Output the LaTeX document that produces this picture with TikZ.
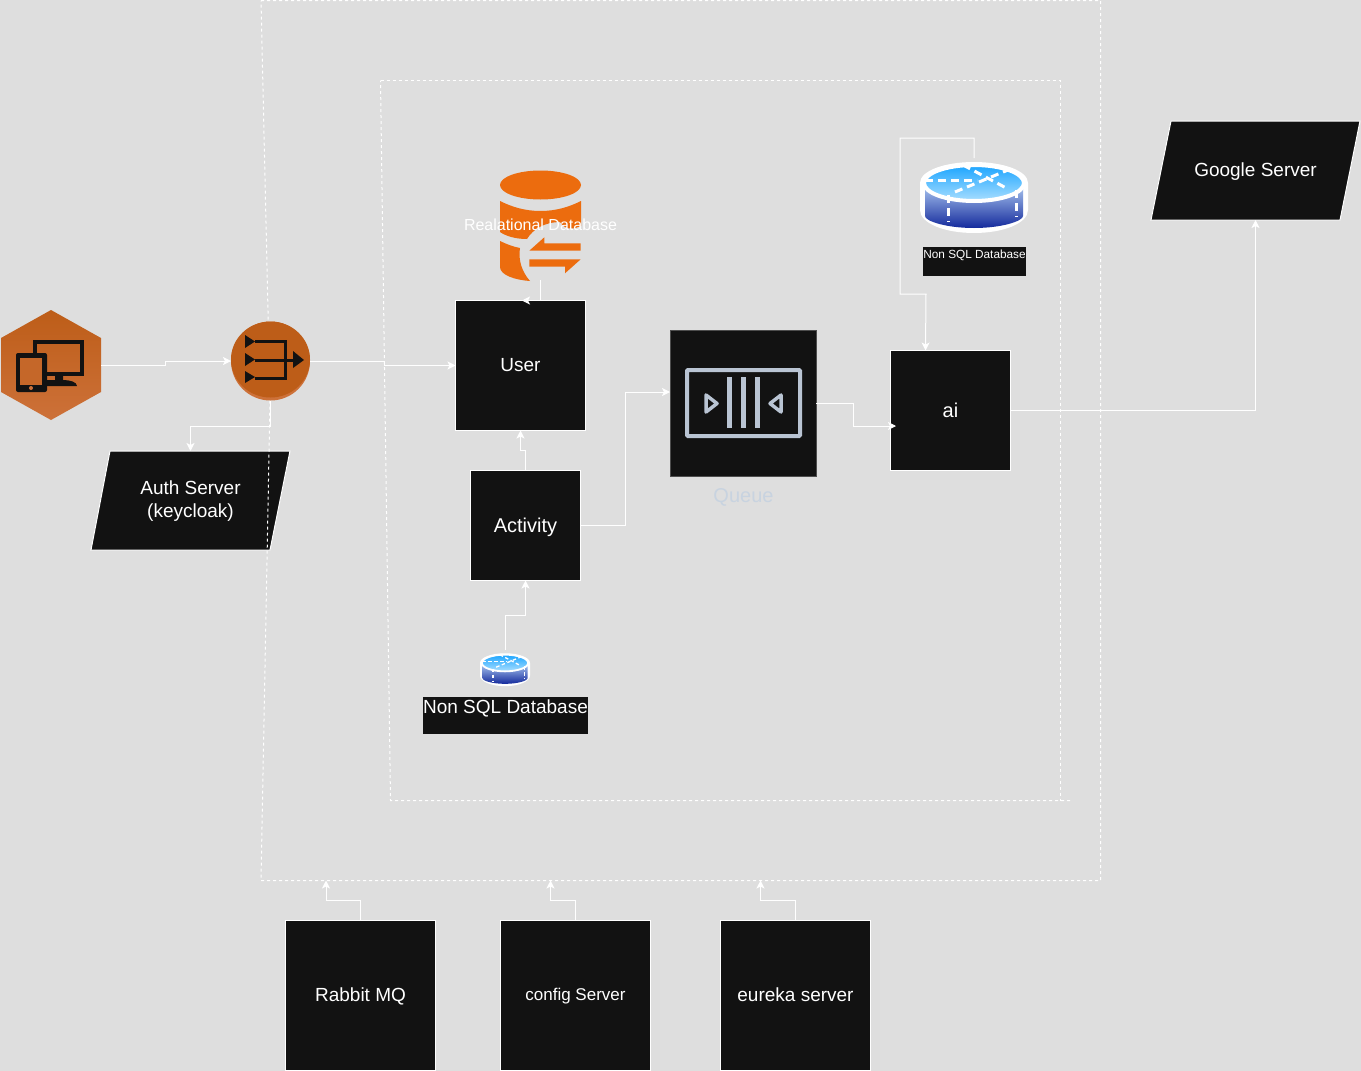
\documentclass[tikz,border=0pt]{standalone}
\usepackage{fontspec}
\setmainfont{Liberation Sans}
\usetikzlibrary{arrows.meta}
\definecolor{pagebg}{HTML}{DEDEDE}
\definecolor{boxblack}{HTML}{121212}
\definecolor{awsdark}{HTML}{BD5D18}
\definecolor{awslight}{HTML}{CD7139}
\definecolor{dborange}{HTML}{EC6C0E}
\definecolor{queuegrey}{HTML}{B9C4D3}
\definecolor{queuetext}{HTML}{C8D3E0}
\definecolor{discdark}{HTML}{142A9C}
\definecolor{disclight}{HTML}{A6C2EE}
\definecolor{topdark}{HTML}{1CA5FF}
\definecolor{toplight}{HTML}{A8DEFF}
\newcommand{\nosqlicon}[4]{
\begin{scope}[shift={(#1,#2)},scale=#3]
\fill[white] (-54,0) .. controls (-54,-12) and (-30,-21) .. (0,-21) .. controls (30,-21) and (54,-12) .. (54,0) -- (54,27) .. controls (54,40) and (30,50) .. (0,50) .. controls (-30,50) and (-54,40) .. (-54,27) -- cycle;
\path[top color=disclight,bottom color=discdark] (-49,3) -- (49,3) -- (49,33) .. controls (49,38) and (28,45) .. (0,45) .. controls (-28,45) and (-49,38) .. (-49,33) -- cycle;
\path[draw=white,line width=#3*4pt,top color=topdark,bottom color=toplight] (0,0) ellipse [x radius=50,y radius=18];
\draw[white,#4] (-49,-3) -- (3,-3);
\draw[white,#4] (-11,-18) -- (34,6);
\draw[white,#4] (-19,9) -- (34,-13);
\draw[white,#4] (-26,12) -- (-26,39);
\draw[white,#4] (42,7) -- (42,34);
\end{scope}
}
\begin{document}
\begin{tikzpicture}[x=1pt,y=-1pt,line width=1pt]
\tikzstyle{blackbox} = [rectangle, draw=white, fill=boxblack, text=white, inner sep=0pt, outer sep=0pt, text depth=2pt, font=\fontsize{19}{23}\selectfont]
\tikzstyle{paratext} = [rectangle, text=white, inner sep=0pt, outer sep=0pt, align=center, font=\fontsize{19}{23}\selectfont]
\tikzstyle{parabox} = [draw=white, fill=boxblack]
\tikzstyle{labelbox} = [rectangle, fill=boxblack, text=white, inner sep=0pt, outer sep=0pt]
\tikzstyle{boundary} = [draw=white, dash pattern=on 3pt off 3pt]
\tikzstyle{edge} = [draw=white, -{Stealth[length=8pt,width=8pt,inset=2pt]}]

\useasboundingbox (0,0) rectangle (1361,1071);
\fill[pagebg] (0,0) rectangle (1361,1071);

\path[top color=awsdark, bottom color=awslight] (51,310) -- (101,338) -- (101,392) -- (51,420) -- (1,392) -- (1,338) -- cycle;
\node[rectangle, minimum width=100, minimum height=110, inner sep=0pt, outer sep=0pt] (device) at (51,365) {};
\draw[boxblack, line width=4pt] (35,353) -- (35,342) -- (82,342) -- (82,374) -- (47,374);
\fill[boxblack] (55,376) -- (63,376) -- (63,380) .. controls (70,380) and (77,382) .. (77,386) -- (47,386) -- (47,380) -- (55,380) -- cycle;
\fill[boxblack, rounded corners=2pt] (16,353) rectangle (47,392);
\fill[awsdark!50!awslight] (20,358) rectangle (42,385);
\fill[awslight] (31,388) circle (2);

\draw[parabox] (110,451) -- (290,451) -- (270,550) -- (91,550) -- cycle;
\node[paratext, minimum width=180, minimum height=100] (auth) at (190.5,501) {Auth Server\\(keycloak)};
\draw[parabox] (1171,121) -- (1360,121) -- (1340,220) -- (1151,220) -- cycle;
\node[paratext, text depth=2pt, minimum width=190, minimum height=99] (google) at (1255.5,170.5) {Google Server};

\draw[boundary] (261,0.5) -- (1100.5,0.5) -- (1100.5,880.5) -- (261,880.5) -- (270,400) -- cycle;
\draw[boundary] (380.5,80.5) -- (1060.5,80.5) -- (1060.5,800.5);
\draw[boundary] (1070,800.5) -- (390.5,800.5) -- (380.5,80.5);

\fill[awslight] (270.5,361) circle (39.5);
\node[circle, minimum size=79, inner sep=0pt, outer sep=0pt] (gateway) at (270.5,361) {};
\fill[awsdark] (270.5,359.5) ellipse [x radius=39.5, y radius=38];
\draw[boxblack, line width=3pt] (255,341) -- (285,341) -- (285,378) -- (255,378);
\draw[boxblack, line width=3pt] (255,360) -- (294,360);
\fill[boxblack] (245,335) -- (255,341.5) -- (245,348) -- cycle;
\fill[boxblack] (245,353) -- (255,359.5) -- (245,366) -- cycle;
\fill[boxblack] (245,371) -- (255,377) -- (245,383) -- cycle;
\fill[boxblack] (293,351) -- (304,360) -- (293,368) -- cycle;

\fill[dborange] (540.5,185) ellipse [x radius=40.5, y radius=14.5];
\fill[dborange] (500,201) .. controls (512,207) and (525,211) .. (540.5,211) .. controls (556,211) and (569,207) .. (581,201) -- (581,226) .. controls (574,229) and (566,231) .. (560,222) .. controls (545,222) and (533,229) .. (527,239) .. controls (515,239) and (506,236) .. (500,232) -- cycle;
\fill[dborange] (500,241) .. controls (506,244) and (514,247) .. (520,248) .. controls (518,260) and (522,272) .. (530,281) .. controls (515,280) and (500,275) .. (500,267) -- cycle;
\fill[dborange] (529.3,250.7) -- (544.3,237.3) -- (544.3,243.3) -- (580.7,243.3) -- (580.7,250.7) -- cycle;
\fill[dborange] (529.3,259.3) -- (580.7,259.3) -- (565,273.3) -- (565,266.7) -- (529.3,266.7) -- cycle;
\node[rectangle, text=white, inner sep=0pt, outer sep=0pt, minimum width=81, minimum height=110, font=\fontsize{16}{19}\selectfont] (reldb) at (540.5,225) {Realational Database};

\node[blackbox, minimum width=130, minimum height=130] (user) at (520.5,365.5) {User};
\node[blackbox, text depth=0pt, minimum width=110, minimum height=110, font=\fontsize{20}{24}\selectfont] (activity) at (525.5,525.5) {Activity};
\node[blackbox, draw=boxblack!75!white, line width=.5pt, minimum width=146, minimum height=146] (queue) at (743,403) {};
\node[blackbox, text depth=0pt, minimum width=120, minimum height=120, font=\fontsize{20}{24}\selectfont] (ai) at (950.5,410.5) {ai};
\node[text=queuetext, inner sep=0pt, font=\fontsize{20}{24}\selectfont] (queuelabel) at (743.5,497) {Queue};

\draw[queuegrey, line width=4pt, rounded corners=1pt] (687,370) rectangle (800,436);
\draw[queuegrey, line width=4.5pt] (729.3,377) -- (729.3,428);
\draw[queuegrey, line width=4.5pt] (743.3,377) -- (743.3,428);
\draw[queuegrey, line width=4.5pt] (757.3,377) -- (757.3,428);
\draw[queuegrey, line width=3.5pt, line join=round] (706,395) -- (717,403.5) -- (706,412) -- cycle;
\draw[queuegrey, line width=3.5pt, line join=round] (781,395) -- (770,403.5) -- (781,412) -- cycle;

\nosqlicon{974}{183}{1}{line width=3pt, dash pattern=on 8pt off 5pt}
\node[minimum width=108, minimum height=75, inner sep=0pt, outer sep=0pt] (nosqlai) at (974,195.5) {};
\node[labelbox, minimum width=103, minimum height=29, text height=11pt, text depth=18pt, font=\fontsize{11.8}{14}\selectfont] (nosqlailabel) at (974.5,261.5) {Non SQL Database};
\nosqlicon{505}{663}{0.463}{line width=1.3pt, dash pattern=on 3.5pt off 2.5pt}
\node[minimum width=50, minimum height=36, inner sep=0pt, outer sep=0pt] (nosqlactivity) at (505,668) {};
\node[labelbox, minimum width=165, minimum height=37, text height=16pt, text depth=21pt, font=\fontsize{19}{23}\selectfont] (nosqlactivitylabel) at (505.5,715.5) {Non SQL Database};

\node[blackbox, minimum width=150, minimum height=150] (rabbit) at (360.5,995.5) {Rabbit MQ};
\node[blackbox, minimum width=150, minimum height=150, font=\fontsize{17}{21}\selectfont] (config) at (575.5,995.5) {config Server};
\node[blackbox, minimum width=150, minimum height=150] (eureka) at (795.5,995.5) {eureka server};

\coordinate (userin) at (522,300.5);
\coordinate (queuein) at (670,392);
\coordinate (aiin) at (896,426);
\coordinate (aitop) at (925.5,350.5);
\coordinate (rabbitin) at (326,880.5);
\coordinate (configin) at (550.5,880.5);
\coordinate (eurekain) at (760.5,880.5);

\draw[edge] (device.east) -- ++(64,0) |- (gateway.west);
\draw[edge] (gateway.east) -- ++(74,0) |- (user.west);
\draw[edge] (gateway.south) -- ++(0,26) -| (auth.north);
\draw[edge] (reldb.south) |- (userin);
\draw[edge] (activity.north) -- ++(0,-20) -| (user.south);
\draw[edge] (activity.east) -- ++(45,0) |- (queuein);
\draw[edge] (queue.east) -- ++(37,0) |- (aiin);
\draw[edge] (ai.east) -| (google.south);
\draw[edge] (nosqlactivity.north) -- ++(0,-35) -| (activity.south);
\draw[edge] (nosqlai.north) -- ++(0,-20) -- ++(-74,0) -- ++(0,156) -- ++(26,0) -- (aitop);
\draw[edge] (rabbit.north) -- ++(0,-20) -| (rabbitin);
\draw[edge] (config.north) -- ++(0,-20) -| (configin);
\draw[edge] (eureka.north) -- ++(0,-20) -| (eurekain);
\end{tikzpicture}
\end{document}
